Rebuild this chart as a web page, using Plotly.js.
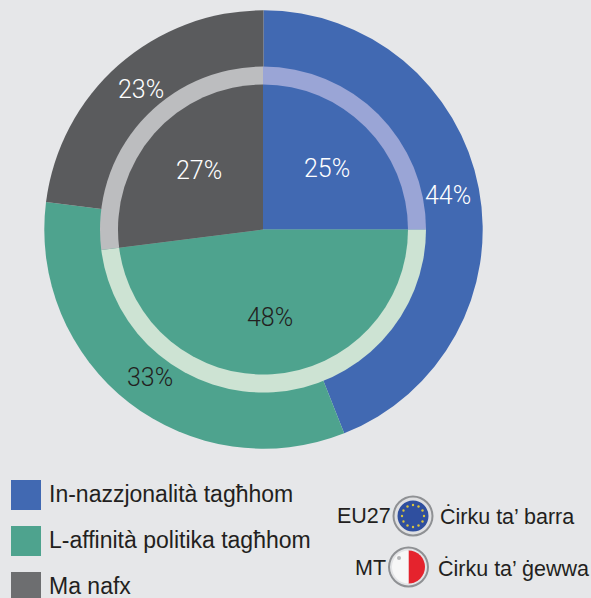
<!DOCTYPE html>
<html><head><meta charset="utf-8">
<script src="https://cdn.plot.ly/plotly-3.0.1.min.js"></script>
<style>html,body{margin:0;padding:0;background:#e6e7e9}</style></head>
<body><div id="chart" style="width:591px;height:598px"></div>
<script>
const categories = ["In-nazzjonalità tagħhom", "L-affinità politika tagħhom", "Ma nafx"];
const outerValues = [44, 33, 23];   // EU27
const innerValues = [25, 48, 27];   // MT
const outerColors = ["#4169b2", "#4ea38e", "#5a5b5d"];
const ringColors = ["#9aa5d6", "#cde3d3", "#bcbdbf"];
const legendColors = ["#4169b2", "#4ea38e", "#6d6e70"];
const W = 591, H = 598;
const px = x => x / W, py = y => 1 - y / H;
const dom = (cx, cy, r) => ({x: [px(cx - r), px(cx + r)], y: [py(cy + r), py(cy - r)]});
const pie = (values, colors, d) => ({
  type: "pie", values, labels: values.map((v, i) => "s" + i), sort: false, direction: "clockwise", rotation: 0,
  marker: {colors, line: {width: 0}}, textinfo: "none", hoverinfo: "skip", showlegend: false,
  domain: d
});
const cx = 263.5, cy = 229.5;
const data = [
  pie(outerValues, outerColors, dom(cx, cy, 219.2)),
  pie(innerValues, ringColors, dom(263, cy, 163)),
  pie(innerValues, outerColors, dom(263, cy, 145)),
  // flag badges
  pie([1], ["#8f9194"], dom(413, 516, 20.5)),
  pie([1], ["#dfe0e2"], dom(413, 516, 18.5)),
  pie([1], ["#2f4f9f"], dom(413, 516, 15.5)),
  pie([1], ["#8f9194"], dom(408.5, 567, 20.5)),
  pie([1], ["#e3e4e6"], dom(408.5, 567, 18.5)),
  pie([50, 50], ["#e5232d", "#f7f7f7"], dom(408.5, 567, 16.5))
];
const txt = (x, y, text, size, color, family, anchor, weight) => ({
  xref: "paper", yref: "paper", x: px(x), y: py(y), text, showarrow: false,
  xanchor: anchor || "center", yanchor: "middle", borderpad: 0, borderwidth: 0,
  font: {size, color, family, weight: weight || 400}
});
const pctFont = "Roboto, Lato, sans-serif";
const lab = "'Liberation Sans', Arial";
const ink = "#231f20";
const annotations = [
  txt(447.5, 195, outerValues[0] + "%", 25, "#ffffff", pctFont, "center", 300),
  txt(150, 377, outerValues[1] + "%", 25, ink, pctFont, "center", 300),
  txt(141, 89, outerValues[2] + "%", 25, "#ffffff", pctFont, "center", 300),
  txt(326.5, 168, innerValues[0] + "%", 25, "#ffffff", pctFont, "center", 300),
  txt(270, 317, innerValues[1] + "%", 25, ink, pctFont, "center", 300),
  txt(199, 171, innerValues[2] + "%", 25, "#ffffff", pctFont, "center", 300),
  txt(49, 494, categories[0], 23, ink, lab, "left"),
  txt(49, 540, categories[1], 23, ink, lab, "left"),
  txt(49, 586, categories[2], 23, ink, lab, "left"),
  txt(337, 516, "EU27", 21.5, ink, lab, "left"),
  txt(355, 568, "MT", 21.5, ink, lab, "left"),
  txt(440, 516, "Ċirku ta’ barra", 21.5, ink, lab, "left"),
  txt(438, 568, "Ċirku ta’ ġewwa", 21.5, ink, lab, "left")
];
const shapes = [480, 526, 572].map((y, i) => ({
  type: "rect", xref: "paper", yref: "paper", x0: px(11), x1: px(41), y0: py(y), y1: py(y + 30),
  fillcolor: legendColors[i], line: {width: 0}
}));
const dot = (x, y, r, color) => ({
  type: "circle", layer: "above", xref: "paper", yref: "paper",
  x0: px(x - r), x1: px(x + r), y0: py(y + r), y1: py(y - r), fillcolor: color, line: {width: 0}
});
// ring of stars on the EU badge, small mark on the Malta badge
for (let h = 0; h < 12; h++) {
  const a = h * Math.PI / 6;
  shapes.push(dot(413 + 11 * Math.sin(a), 516 - 11 * Math.cos(a), 1.2, "#d9c43f"));
}
shapes.push(dot(399, 558, 2, "#b5b6b8"));
Plotly.newPlot("chart", data, {
  width: W, height: H, margin: {l: 0, r: 0, t: 0, b: 0},
  paper_bgcolor: "#e6e7e9", plot_bgcolor: "#e6e7e9",
  annotations, shapes, showlegend: false
}, {displayModeBar: false, staticPlot: true});
</script></body></html>
